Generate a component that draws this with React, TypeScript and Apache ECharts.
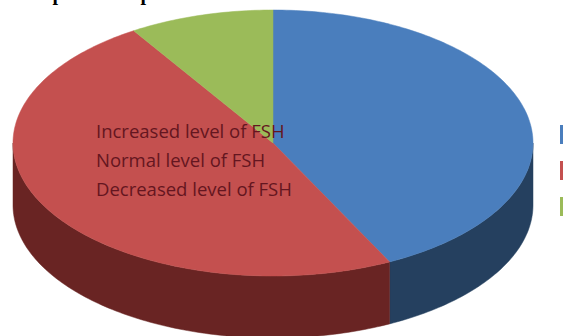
import React, { useEffect, useRef } from "react";
import * as echarts from "echarts";

const categories = ["Increased level of FSH", "Normal level of FSH", "Decreased level of FSH"];
const shares = [42.6, 48.4, 9.0];
const topColors = ["#4a7ebd", "#c4504f", "#9bbb59"];
const wallColors = ["#25405f", "#692423", "#4e5d2c"];
const labelRows = [130, 159, 188];
const swatchRows = [125, 161, 197];
const titleLetters = [58, 146];

const CX = 273;
const CY = 143;
const RX = 260;
const RY = 133;
const DEPTH = 62;

// Point on the pie's top ellipse, with the angle measured clockwise from 12 o'clock.
const rim = (deg: number, drop = 0): [number, number] => {
  const a = (deg * Math.PI) / 180;
  return [CX + RX * Math.sin(a), CY - RY * Math.cos(a) + drop];
};

const arcPoints = (from: number, to: number, drop = 0) => {
  const pts: [number, number][] = [];
  const steps = Math.max(2, Math.ceil(Math.abs(to - from)));
  for (let i = 0; i <= steps; i++) pts.push(rim(from + ((to - from) * i) / steps, drop));
  return pts;
};

export default function App() {
  const ref = useRef<HTMLDivElement>(null);
  useEffect(() => {
    const chart = echarts.init(ref.current!, null, { renderer: "svg" });
    const total = shares.reduce((s, v) => s + v, 0);
    let acc = 0;
    const spans = shares.map((v) => {
      const start = (acc / total) * 360;
      acc += v;
      return [start, (acc / total) * 360];
    });

    // Walls of one slice: only the part of the rim facing the viewer (90 to 270 degrees).
    const renderWall = (params: any) => {
      const [s, e] = spans[params.dataIndex];
      const from = Math.max(s, 90);
      const to = Math.min(e, 270);
      if (from >= to) return { type: "group", children: [] };
      return {
        type: "polygon",
        shape: { points: [...arcPoints(from, to), ...arcPoints(to, from, DEPTH)] },
        style: { fill: wallColors[params.dataIndex], stroke: wallColors[params.dataIndex], lineWidth: 0.5 },
      };
    };
    const renderTop = (params: any) => {
      const [s, e] = spans[params.dataIndex];
      return {
        type: "polygon",
        shape: { points: [[CX, CY], ...arcPoints(s, e)] },
        style: { fill: topColors[params.dataIndex], stroke: topColors[params.dataIndex], lineWidth: 0.5 },
      };
    };
    const rows = shares.map((v, i) => [i, v]);

    chart.setOption({
      animation: false,
      backgroundColor: "#ffffff",
      series: [
        { type: "custom", coordinateSystem: "none", renderItem: renderWall, data: rows, silent: true },
        { type: "custom", coordinateSystem: "none", renderItem: renderTop, data: rows, silent: true },
      ],
      graphic: [
        // Heading runs off the top edge, so only its descenders stay in view.
        ...titleLetters.map((x) => ({
          type: "text",
          x,
          y: 3,
          z: 10,
          style: {
            text: "p",
            fill: "#000000",
            align: "center",
            verticalAlign: "bottom",
            font: "bold 20px 'Liberation Serif', serif",
          },
        })),
        ...categories.map((name, i) => ({
          type: "text",
          x: 96,
          y: labelRows[i],
          z: 10,
          style: {
            text: name,
            fill: "#641620",
            verticalAlign: "middle",
            font: "18.5px 'Open Sans', sans-serif",
          },
        })),
        ...categories.map((_, i) => ({
          type: "rect",
          z: 10,
          shape: { x: 560, y: swatchRows[i], width: 8, height: 19 },
          style: { fill: topColors[i] },
        })),
      ],
    });
    return () => chart.dispose();
  }, []);
  return <div ref={ref} style={{ position: "fixed", left: 0, top: 0, width: 563, height: 336 }} />;
}
